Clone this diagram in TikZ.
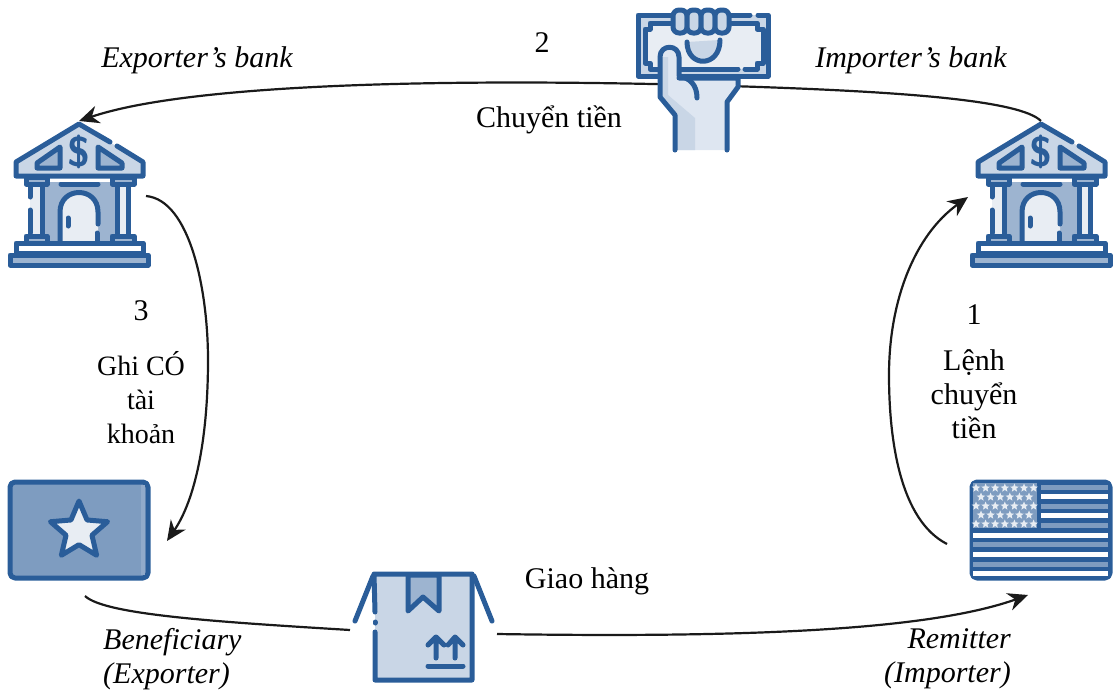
\documentclass[tikz,border=0pt]{standalone}
\usepackage{fontspec}
\setmainfont{Liberation Serif}
\usepackage{xcolor}
\definecolor{bkdark}{RGB}{42, 93, 153}
\definecolor{bkmid}{RGB}{157, 180, 208}
\definecolor{bkflag}{RGB}{126, 156, 192}
\definecolor{bklight}{RGB}{201, 214, 230}
\definecolor{bkpale}{RGB}{232, 237, 243}
\definecolor{bkhand}{RGB}{222, 230, 241}
\definecolor{wire}{RGB}{26, 26, 26}
\usetikzlibrary{arrows.meta}
\usetikzlibrary{shapes.geometric}
\tikzset{
icon/.style={draw=bkdark,line width=5pt,line cap=round,line join=round},
link/.style={draw=wire,line width=2.2pt},
linkarrow/.style={link,-{Stealth[length=20pt,width=18pt]}},
lab/.style={font=\fontsize{30}{34}\selectfont,inner sep=0pt,align=center},
labit/.style={lab,font=\fontsize{30}{34}\selectfont\itshape},
flagstar/.style={star,star points=5,star point ratio=2.3,fill=bkpale,minimum size=9pt,inner sep=0pt},
pics/bankicon/.style={code={
\fill[bklight] (79,124) -- (16,162) -- (16,176) -- (143,176) -- (143,162) -- cycle;
\draw[icon] (117,146) -- (143,162) -- (143,176) -- (16,176) -- (16,162) -- (79,124) -- (110,142);
\draw[icon,fill=bkmid] (37,163) -- (60,147) -- (60,168) -- (37,168) -- cycle;
\draw[icon,fill=bkmid] (98,147) -- (122,163) -- (122,168) -- (98,168) -- cycle;
\node[font=\fontsize{42}{42}\sffamily\bfseries,text=bkdark,inner sep=0pt] (-dollar) at (79,152) {\$};
\fill[bkmid] (42,182) rectangle (117,243);
\fill[bkpale] (30,184) rectangle (42,237);
\fill[bkpale] (117,184) rectangle (128,237);
\draw[icon] (30,187) -- (30,197) (30,210) -- (30,233);
\draw[icon] (42,184) -- (42,240);
\draw[icon] (117,184) -- (117,240);
\draw[icon] (128,184) -- (128,237);
\draw[icon,fill=bkmid] (26,177) rectangle (47,184);
\draw[icon,fill=bkmid] (112,177) rectangle (134,184);
\draw[icon,fill=bkmid] (26,236) rectangle (47,243);
\draw[icon,fill=bkmid] (112,236) rectangle (134,243);
\draw[icon] (61,184) -- (98,184);
\fill[bkpale] (60,243) -- (60,212) .. controls (60,186) and (98,186) .. (98,212) -- (98,243) -- cycle;
\draw[icon] (60,243) -- (60,212) .. controls (60,186) and (98,186) .. (98,212) -- (98,224);
\draw[icon] (97,233) -- (97,243);
\draw[icon] (68,218) -- (68,226);
\draw[icon,fill=white] (16,243) rectangle (143,253);
\draw[icon,fill=bkmid] (10,255) rectangle (148,265);
\coordinate (-top) at (79,121);
\coordinate (-low) at (146,196);
}}
}
\begin{document}
\begin{tikzpicture}[x=1pt,y=-1pt]
\useasboundingbox (0,0) rectangle (1116,691);
\coordinate (boxl) at (350,630);
\coordinate (boxr) at (497,634);
\coordinate (starin) at (167,541);
\coordinate (starout) at (85,596);
\coordinate (flagin) at (1028,595);
\coordinate (flagout) at (947,544);
\coordinate (bankin) at (968,197);

\pic (bankl) at (0,0) {bankicon};
\pic (bankr) at (962,0) {bankicon};

\draw[linkarrow] (bankr-top) .. controls (1020,100) and (900,92) .. (760,87) .. controls (500,78) and (200,80) .. (bankl-top);
\draw[linkarrow] (bankl-low) .. controls (190,200) and (208,290) .. (208,360) .. controls (208,440) and (195,500) .. (starin);
\draw[linkarrow] (flagout) .. controls (900,520) and (889,440) .. (889,375) .. controls (889,300) and (915,235) .. (bankin);
\draw[link] (starout) .. controls (105,615) and (220,622) .. (boxl);
\draw[linkarrow] (boxr) .. controls (750,638) and (930,630) .. (flagin);

\fill[bklight] (638,15) rectangle (768,76);
\draw[icon] (758,15) -- (768,15) -- (768,76) -- (638,76) -- (638,15) -- (750,15);
\fill[bkpale] (650,23) -- (650,29) -- (645,29) -- (645,63) -- (650,63) -- (650,69) -- (757,69) -- (757,63) -- (763,63) -- (763,29) -- (757,29) -- (757,23) -- cycle;
\draw[icon] (672,23) -- (650,23) -- (650,29) -- (645,29) -- (645,63) -- (650,63) -- (650,69) -- (738,69) (745,69) -- (757,69) -- (757,63) -- (763,63) -- (763,29) -- (757,29) -- (757,23) -- (732,23);
\draw[icon,fill=bklight] (687,42) .. controls (687,68) and (720,68) .. (720,40);
\foreach \fx in {673,687,701,715} {
\draw[icon,fill=bklight,rounded corners=6pt] (\fx,10) rectangle ({\fx+14},33);
}
\fill[bkhand] (675,150) -- (675,115) -- (660,97) -- (660,57) .. controls (660,44) and (679,44) .. (679,57) -- (679,78) -- (738,78) -- (738,87) -- (727,102) -- (727,150) -- cycle;
\fill[bklight] (675,150) -- (675,115) -- (660,97) -- (660,57) -- (668,57) -- (668,95) -- (695,118) -- (695,150) -- cycle;
\draw[icon] (675,150) -- (675,115) -- (660,97) -- (660,57) .. controls (660,44) and (679,44) .. (679,57) -- (679,76) .. controls (690,78) and (697,85) .. (697,98);
\draw[icon] (679,78) -- (738,78) -- (738,87) -- (727,102) -- (727,150);

\fill[white] (352,622) rectangle (372,640);
\fill[bklight] (375,574) rectangle (472,680);
\draw[icon] (375,632) -- (375,680) -- (472,680) -- (472,574) -- (374,574) -- (375,612);
\draw[icon] (375,622) -- (375,623);
\draw[icon] (373,576) -- (355,621);
\draw[icon] (474,576) -- (492,621);
\draw[icon,fill=bkmid] (408,575) -- (408,611) -- (423,597) -- (439,611) -- (439,575) -- cycle;
\draw[icon] (436,658) -- (436,638) (428,645) -- (436,637) -- (444,645);
\draw[icon] (455,658) -- (455,638) (448,645) -- (455,637) -- (463,645);
\draw[icon] (428,666) -- (463,666);

\draw[icon,fill=bkflag,rounded corners=5pt] (10,482) rectangle (148,578);
\fill[bkmid!60!bkflag] (141,485) rectangle (145,575);
\node[star,star points=5,star point ratio=2.2,draw=bkdark,fill=bkpale,line width=5pt,line join=round,minimum size=60pt,inner sep=0pt] (bigstar) at (79,531) {};

\draw[icon,fill=bkdark,rounded corners=5pt] (972,482) rectangle (1110,578);
\fill[bkflag] (973,483) rectangle (1037,528);
\foreach \sy in {487,506,525} {
\fill[bkflag] (1041,{\sy-2.5}) rectangle (1108,{\sy+2.5});
}
\foreach \sy in {496,515} {
\fill[white] (1041,{\sy-2.5}) rectangle (1108,{\sy+2.5});
}
\foreach \sy in {535,554,573} {
\fill[white] (973,{\sy-2.5}) rectangle (1108,{\sy+2.5});
}
\foreach \sy in {544,564} {
\fill[bkflag] (973,{\sy-2.5}) rectangle (1108,{\sy+2.5});
}
\foreach \r/\sy in {0/488,2/506,4/524} {
\foreach \c in {0,...,6} {
\node[flagstar] (st\r\c) at ({976+9.6*\c},\sy) {};
}
}
\foreach \r/\sy in {1/497,3/515} {
\foreach \c in {0,...,5} {
\node[flagstar] (st\r\c) at ({981+9.6*\c},\sy) {};
}
}

\node[labit] (expbank) at (197,60) {Exporter’s bank};
\node[labit] (impbank) at (911,60) {Importer’s bank};
\node[lab] (n2) at (542,43) {2};
\node[lab] (transfer) at (549,120) {Chuyển tiền};
\node[lab] (n3) at (141,311) {3};
\node[lab,font=\fontsize{28}{34}\selectfont] (credit) at (141,398) {Ghi CÓ\\tài\\khoản};
\node[lab] (n1) at (974,315) {1};
\node[lab] (order) at (974,394) {Lệnh\\chuyển\\tiền};
\node[lab] (ship) at (587,581) {Giao hàng};
\node[labit,align=left,anchor=west] (benef) at (103,659) {Beneficiary\\(Exporter)};
\node[labit,align=right,anchor=east] (remit) at (1011,659) {Remitter\\(Importer)};
\end{tikzpicture}
\end{document}
